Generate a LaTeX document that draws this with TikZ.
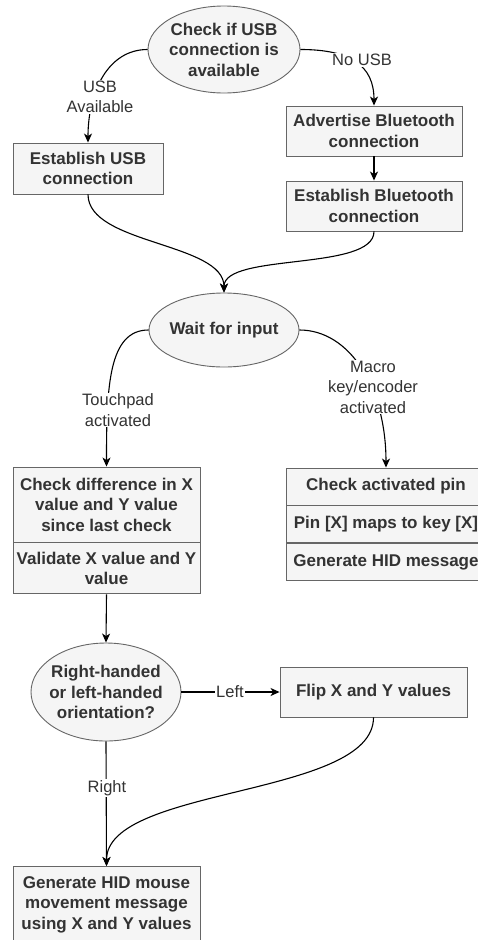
\documentclass[tikz,border=0pt]{standalone}
\usepackage{fontspec}
\setmainfont{Liberation Sans}
\usetikzlibrary{arrows.meta,shapes.geometric}
\definecolor{fillg}{HTML}{F5F5F5}
\definecolor{strokeg}{HTML}{666666}
\definecolor{txtg}{HTML}{333333}
\begin{document}
\begin{tikzpicture}[x=1pt,y=-1pt,
  shp/.style={draw=strokeg, fill=fillg, line width=0.9pt, inner sep=0pt},
  ell/.style={shp, ellipse},
  pbox/.style={shp, rectangle, text=txtg, font=\bfseries\fontsize{17}{20.5}\selectfont, align=center},
  txt/.style={text=txtg, font=\bfseries\fontsize{17}{20.5}\selectfont, align=center, inner sep=0pt},
  lbl/.style={fill=white, text=txtg, font=\fontsize{16.5}{20.5}\selectfont, align=center, inner sep=1pt},
  conn/.style={draw=black, line width=1.1pt, -{Stealth[length=9pt,width=8pt,inset=2.5pt]}}]
\useasboundingbox (0,0) rectangle (478,940);
\clip (0,0) rectangle (478,940);
\fill[white] (0,0) rectangle (478,940);

% shapes
\node[ell, minimum width=152, minimum height=87] (chk) at (224,49.5) {};
\node[txt] (chkT) at (chk.center) {Check if USB\\connection is\\available};
\node[pbox, minimum width=150, minimum height=51] (usb) at (88,168.5) {Establish USB\\connection};
\node[pbox, minimum width=176, minimum height=50] (adv) at (374,131) {Advertise Bluetooth\\connection};
\node[pbox, minimum width=176, minimum height=50] (bt) at (374,206) {Establish Bluetooth\\connection};
\node[ell, minimum width=150, minimum height=74] (wait) at (224,330) {};
\node[txt] (waitT) at (wait.center) {Wait for input};
\node[pbox, minimum width=187, minimum height=75] (tp1) at (106.5,504.5) {Check difference in X\\value and Y value\\since last check};
\node[pbox, minimum width=187, minimum height=51, anchor=north] (tp2) at (tp1.south) {Validate X value and Y\\value};
\node[pbox, minimum width=200, minimum height=37] (mk1) at (386,486.5) {Check activated pin};
\node[pbox, minimum width=200, minimum height=37, anchor=north] (mk2) at (mk1.south) {Pin [X] maps to key [X]};
\node[pbox, minimum width=200, minimum height=37, anchor=north] (mk3) at (mk2.south) {Generate HID message};
\node[ell, minimum width=150, minimum height=98] (ori) at (106,692) {};
\node[txt] (oriT) at (ori.center) {Right-handed\\or left-handed\\orientation?};
\node[pbox, minimum width=187, minimum height=50] (flip) at (373.5,692) {Flip X and Y values};
\node[pbox, minimum width=187, minimum height=76, anchor=north] (gen) at (106.5,866) {Generate HID mouse\\movement message\\using X and Y values};

% connectors
\draw[conn] (chk.west) .. controls +(-40,0) and +(0,-50) .. (usb.north);
\draw[conn] (chk.east) .. controls +(50,0) and +(0,-40) .. (adv.north);
\draw[conn] (adv.south) -- (bt.north);
\draw[conn] (usb.south) .. controls +(0,50) and +(0,-50) .. (wait.north);
\draw[conn] (bt.south) .. controls +(0,40) and +(0,-40) .. (wait.north);
\draw[conn] (wait.west) .. controls +(-40,0) and +(0,-80) .. (tp1.north);
\draw[conn] (wait.east) .. controls +(50,0) and +(0,-80) .. (mk1.north);
\draw[conn] (tp2.south) -- (ori.north);
\draw[conn] (ori.east) -- (flip.west);
\draw[conn] (ori.south) -- (gen.north);
\draw[conn] (flip.south) .. controls +(0,80) and +(0,-80) .. (gen.north);

% edge labels
\node[lbl] (lusb) at (100,97) {USB\\Available};
\node[lbl] (lno) at (362,60) {No USB};
\node[lbl] (ltp) at (118,410) {Touchpad\\activated};
\node[lbl] (lmk) at (373,387) {Macro\\key/encoder\\activated};
\node[lbl] (lleft) at (230,692) {Left};
\node[lbl] (lright) at (107,788) {Right};
\end{tikzpicture}
\end{document}
